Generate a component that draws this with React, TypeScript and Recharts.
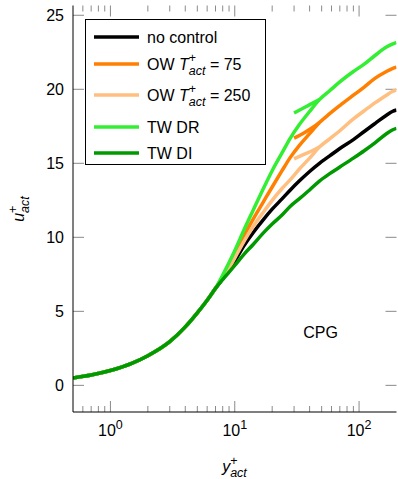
import React from 'react';
import { LineChart, Line, XAxis, YAxis, ReferenceDot, ReferenceLine, Legend } from 'recharts';

// Wall-normal positions y+_act shared by all profiles
const yPlus = [0.5, 0.7, 1, 1.5, 2, 3, 4, 5, 6, 7, 8, 9, 10, 12, 14, 17, 20, 24, 28, 33, 40, 48, 58, 70, 90, 110, 135, 166, 185, 200];

// Common near-wall part (y+ = 0.5 … 7)
const innerU = [0.5, 0.7, 1.0, 1.5, 2.0, 2.95, 3.95, 4.9, 5.75, 6.55];

// Outer parts (y+ = 8 … 200)
const noControlU = [7.2, 7.8, 8.4, 9.5, 10.3, 11.2, 11.9, 12.6, 13.2, 13.8, 14.45, 15.0, 15.5, 16.0, 16.6, 17.15, 17.7, 18.25, 18.5, 18.6];
const ow75U = [7.35, 8.1, 8.9, 10.2, 11.2, 12.4, 13.4, 14.5, 15.4, 16.2, 17.0, 17.75, 18.35, 18.9, 19.6, 20.15, 20.75, 21.2, 21.4, 21.5];
const ow250U = [7.25, 7.9, 8.6, 9.8, 10.7, 11.7, 12.5, 13.3, 13.9, 14.6, 15.35, 16.1, 16.65, 17.2, 18.0, 18.55, 19.1, 19.6, 19.85, 19.95];
const twDrU = [7.45, 8.3, 9.1, 10.6, 11.8, 13.3, 14.5, 15.7, 16.7, 17.6, 18.5, 19.3, 19.9, 20.5, 21.2, 21.7, 22.3, 22.85, 23.05, 23.15];
const twDiU = [7.15, 7.65, 8.1, 8.9, 9.5, 10.3, 10.9, 11.5, 12.1, 12.6, 13.2, 13.8, 14.3, 14.75, 15.35, 15.85, 16.4, 17.0, 17.25, 17.36];

// Short shifted segments of the controlled profiles
const branchYPlus = [30, 36, 42, 48];
const twDrBranchU = [18.4, 18.75, 19.05, 19.3];
const ow75BranchU = [16.7, 17.05, 17.4, 17.75];
const ow250BranchU = [15.3, 15.6, 15.85, 16.1];

// Axis ticks
const majorTicks = [1, 10, 100];
const minorTicks = [0.6, 0.7, 0.8, 0.9, 2, 3, 4, 5, 6, 7, 8, 9, 20, 30, 40, 50, 60, 70, 80, 90];
const uTicks = [0, 5, 10, 15, 20, 25];

const FONT = '"Liberation Sans", Arial, Helvetica, sans-serif';
const TICK = '#8a8a8a';
const LW = 3.5;
const SUB = 12.5;
const Y_DOMAIN: [number, number] = [-1.8, 25.66];
const X_DOMAIN: [number, number] = [0.5, 200];

const COLORS = {
  noControl: '#000000',
  ow75: '#ff7f00',
  ow250: '#ffbf80',
  twDr: '#33ee33',
  twDi: '#009900',
};

const profile = (outer: number[]) =>
  yPlus.map((x, i) => ({ x, u: i < innerU.length ? innerU[i] : outer[i - innerU.length] }));
const branch = (u: number[]) => branchYPlus.map((x, i) => ({ x, u: u[i] }));

// Inward tick marks on bottom and top edges, with decade labels below
const xTickShape = (v: number) => (p: any) => {
  const major = majorTicks.includes(v);
  const len = major ? 11 : 6;
  const x = p.x1;
  const yb = Math.max(p.y1, p.y2);
  const yt = Math.min(p.y1, p.y2);
  return (
    <g>
      <line x1={x} x2={x} y1={yb} y2={yb - len} stroke={TICK} strokeWidth={1} />
      <line x1={x} x2={x} y1={yt} y2={yt + len} stroke={TICK} strokeWidth={1} />
      {major && (
        <text x={x} y={yb + 24} textAnchor="middle" fontSize={16} fontFamily={FONT} fill="#000">
          10<tspan fontSize={SUB} dy={-7}>{Math.round(Math.log10(v))}</tspan>
        </text>
      )}
    </g>
  );
};

// Inward tick marks on left and right edges, with value labels on the left
const yTickShape = (v: number) => (p: any) => {
  const y = p.y1;
  const xl = Math.min(p.x1, p.x2);
  const xr = Math.max(p.x1, p.x2);
  return (
    <g>
      <line x1={xl} x2={xl + 11} y1={y} y2={y} stroke={TICK} strokeWidth={1} />
      <line x1={xr} x2={xr - 11} y1={y} y2={y} stroke={TICK} strokeWidth={1} />
      <text x={xl - 9} y={y + 5.7} textAnchor="end" fontSize={16} fontFamily={FONT} fill="#000">
        {v}
      </text>
    </g>
  );
};

const TAct = ({ sym }: { sym: string }) => (
  <>
    <tspan fontStyle="italic">{sym}</tspan>
    <tspan fontSize={SUB} dy={-7.5}>+</tspan>
    <tspan fontSize={SUB} fontStyle="italic" dx={-7.3} dy={12.5}>act</tspan>
  </>
);

const legendItems = [
  { color: COLORS.noControl, label: <>no control</> },
  {
    color: COLORS.ow75,
    label: (
      <>
        OW <TAct sym="T" />
        <tspan dy={-5}> = 75</tspan>
      </>
    ),
  },
  {
    color: COLORS.ow250,
    label: (
      <>
        OW <TAct sym="T" />
        <tspan dy={-5}> = 250</tspan>
      </>
    ),
  },
  { color: COLORS.twDr, label: <>TW DR</> },
  { color: COLORS.twDi, label: <>TW DI</> },
];
const legendRowY = [17, 44, 75, 107, 133];

const LegendBox = () => (
  <div style={{ width: 181, height: 146, border: '1px solid #000', boxSizing: 'border-box', background: '#fff' }}>
    <svg width={179} height={144} style={{ display: 'block' }}>
      {legendItems.map((item, i) => (
        <g key={i}>
          <line x1={8} x2={53} y1={legendRowY[i]} y2={legendRowY[i]} stroke={item.color} strokeWidth={LW} />
          <text x={61} y={legendRowY[i] + 5.7} fontSize={16} fontFamily={FONT} fill="#000">
            {item.label}
          </text>
        </g>
      ))}
    </svg>
  </div>
);

const XTitle = () => (
  <text x={234.5} y={472} textAnchor="middle" fontSize={16} fontFamily={FONT} fill="#000">
    <TAct sym="y" />
  </text>
);

const YTitle = () => (
  <text x={24} y={209} transform="rotate(-90 24 209)" textAnchor="middle" fontSize={16} fontFamily={FONT} fill="#000">
    <TAct sym="u" />
  </text>
);

export default function App() {
  const lineProps = { type: 'monotone' as const, dataKey: 'u', dot: false, activeDot: false, isAnimationActive: false, strokeWidth: LW, xAxisId: 'b', yAxisId: 'l' };
  return (
    <div style={{ position: 'absolute', left: 0, top: 0 }}>
      <LineChart width={398} height={479} margin={{ top: 5.5, right: 1.5, bottom: 0, left: 0 }}>
        <XAxis
          xAxisId="b"
          dataKey="x"
          type="number"
          scale="log"
          domain={X_DOMAIN}
          allowDataOverflow
          height={67}
          tick={false}
          tickLine={false}
          axisLine={{ stroke: '#000' }}
          label={{ content: () => <XTitle /> }}
        />
        <XAxis
          xAxisId="t"
          orientation="top"
          dataKey="x"
          type="number"
          scale="log"
          domain={X_DOMAIN}
          allowDataOverflow
          height={0}
          tick={false}
          tickLine={false}
          axisLine={{ stroke: '#000' }}
        />
        <YAxis
          yAxisId="l"
          type="number"
          domain={Y_DOMAIN}
          allowDataOverflow
          width={73}
          tick={false}
          tickLine={false}
          axisLine={{ stroke: '#000' }}
          label={{ content: () => <YTitle /> }}
        />
        <YAxis
          yAxisId="r"
          orientation="right"
          type="number"
          domain={Y_DOMAIN}
          allowDataOverflow
          width={0}
          tick={false}
          tickLine={false}
          axisLine={{ stroke: '#000' }}
        />
        {[...minorTicks, ...majorTicks].map((v) => (
          <ReferenceLine key={`xt-${v}`} xAxisId="b" yAxisId="l" x={v} stroke="none" shape={xTickShape(v)} />
        ))}
        {uTicks.map((v) => (
          <ReferenceLine key={`yt-${v}`} xAxisId="b" yAxisId="l" y={v} stroke="none" shape={yTickShape(v)} />
        ))}
        <Legend
          layout="vertical"
          align="center"
          verticalAlign="middle"
          content={<LegendBox />}
          wrapperStyle={{ left: 85, top: 19, width: 181, height: 146 }}
        />
        <Line {...lineProps} name="no control" data={profile(noControlU)} stroke={COLORS.noControl} />
        <Line {...lineProps} name="OW T+act = 75" data={profile(ow75U)} stroke={COLORS.ow75} />
        <Line {...lineProps} name="ow75-seg" legendType="none" data={branch(ow75BranchU)} stroke={COLORS.ow75} />
        <Line {...lineProps} name="OW T+act = 250" data={profile(ow250U)} stroke={COLORS.ow250} />
        <Line {...lineProps} name="ow250-seg" legendType="none" data={branch(ow250BranchU)} stroke={COLORS.ow250} />
        <Line {...lineProps} name="TW DR" data={profile(twDrU)} stroke={COLORS.twDr} />
        <Line {...lineProps} name="twdr-seg" legendType="none" data={branch(twDrBranchU)} stroke={COLORS.twDr} />
        <Line {...lineProps} name="TW DI" data={profile(twDiU)} stroke={COLORS.twDi} />
        <ReferenceDot
          xAxisId="b"
          yAxisId="l"
          x={49}
          y={3.6}
          r={0}
          shape={(p: any) => (
            <text x={p.cx} y={p.cy + 5.7} textAnchor="middle" fontSize={16} fontFamily={FONT} fill="#000">
              CPG
            </text>
          )}
        />
      </LineChart>
    </div>
  );
}
